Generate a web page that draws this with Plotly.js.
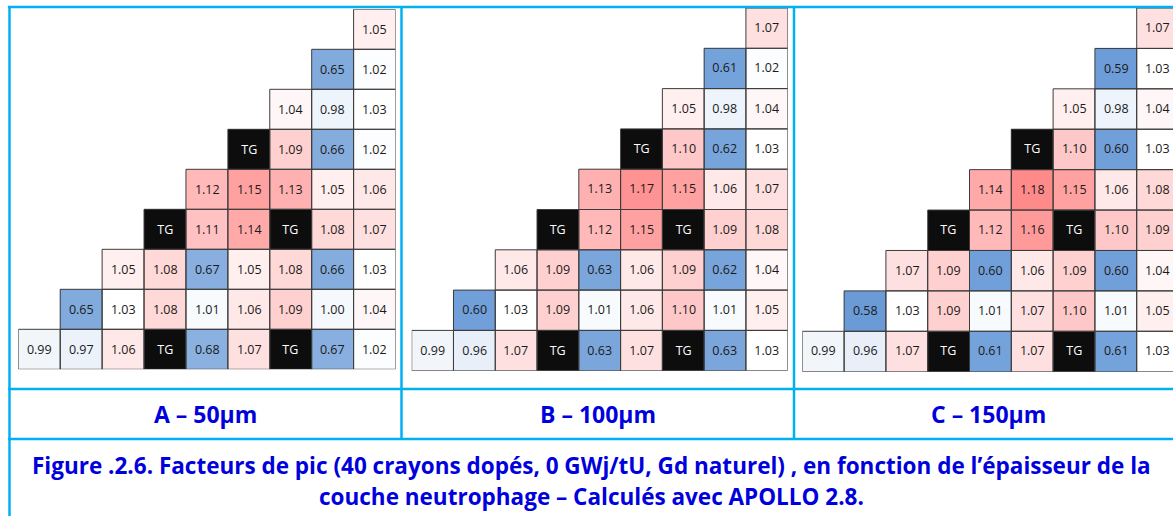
<!DOCTYPE html>
<html><head><meta charset="utf-8">
<script src="https://cdn.plot.ly/plotly-3.0.1.min.js"></script>
<style>html,body{margin:0;padding:0;background:#fff;overflow:hidden}#chart{width:1173px;height:516px}</style>
</head><body><div id="chart"></div>
<script>
// ---------- data ----------
const T = "TG";
const panelLabels = ["A – 50µm", "B – 100µm", "C – 150µm"];
const captionLines = [
  "Figure .2.6. Facteurs de pic (40 crayons dopés, 0 GWj/tU, Gd naturel) , en fonction de l’épaisseur de la",
  "couche neutrophage – Calculés avec APOLLO 2.8."
];
// each row lists its cells, right-aligned in a 9-column triangle
const panelA = [
  [1.05],
  [0.65, 1.02],
  [1.04, 0.98, 1.03],
  [T, 1.09, 0.66, 1.02],
  [1.12, 1.15, 1.13, 1.05, 1.06],
  [T, 1.11, 1.14, T, 1.08, 1.07],
  [1.05, 1.08, 0.67, 1.05, 1.08, 0.66, 1.03],
  [0.65, 1.03, 1.08, 1.01, 1.06, 1.09, 1.00, 1.04],
  [0.99, 0.97, 1.06, T, 0.68, 1.07, T, 0.67, 1.02]
];
const panelB = [
  [1.07],
  [0.61, 1.02],
  [1.05, 0.98, 1.04],
  [T, 1.10, 0.62, 1.03],
  [1.13, 1.17, 1.15, 1.06, 1.07],
  [T, 1.12, 1.15, T, 1.09, 1.08],
  [1.06, 1.09, 0.63, 1.06, 1.09, 0.62, 1.04],
  [0.60, 1.03, 1.09, 1.01, 1.06, 1.10, 1.01, 1.05],
  [0.99, 0.96, 1.07, T, 0.63, 1.07, T, 0.63, 1.03]
];
const panelC = [
  [1.07],
  [0.59, 1.03],
  [1.05, 0.98, 1.04],
  [T, 1.10, 0.60, 1.03],
  [1.14, 1.18, 1.15, 1.06, 1.08],
  [T, 1.12, 1.16, T, 1.10, 1.09],
  [1.07, 1.09, 0.60, 1.06, 1.09, 0.60, 1.04],
  [0.58, 1.03, 1.09, 1.01, 1.07, 1.10, 1.01, 1.05],
  [0.99, 0.96, 1.07, T, 0.61, 1.07, T, 0.61, 1.03]
];
const panels = [panelA, panelB, panelC];

// ---------- style / layout ----------
const W = 1173, H = 516, N = 9;
const gridPx = [ // [left, top, right, bottom] in pixels
  [18.3, 9.3, 395.5, 369.3],
  [411.7, 8.0, 787.7, 370.7],
  [802.3, 8.0, 1178.5, 371.7]
];
const labelX = [205, 598, 988];
const lowColor = "#6A9BD7", midColor = "#FFFFFF", highColor = "#FF8A8A";
const midValue = 1.03;
const frameColor = "#00B0F0";
const textBlue = "#0000DD";
const cellFont = "'Open Sans', sans-serif";

const allNums = panels.flat(2).filter(v => typeof v === "number");
const zmin = Math.min(...allNums), zmax = Math.max(...allNums);
const midPos = (midValue - zmin) / (zmax - zmin);
const colorscale = [[0, lowColor], [midPos, midColor], [1, highColor]];

const traces = [], shapes = [], annotations = [];
const layout = {
  width: W, height: H, margin: {l: 0, r: 0, t: 0, b: 0},
  paper_bgcolor: "#fff", plot_bgcolor: "rgba(0,0,0,0)", showlegend: false
};

panels.forEach((rows, p) => {
  const sfx = p === 0 ? "" : String(p + 1);
  const xa = "x" + sfx, ya = "y" + sfx;
  const z = [], txt = [], zTG = [], tTG = [];
  rows.forEach((cells, r) => {
    const pad = N - cells.length;
    const zr = [], tr = [], zg = [], tg = [];
    for (let c = 0; c < N; c++) {
      const v = c < pad ? null : cells[c - pad];
      if (v === null) { zr.push(null); tr.push(""); zg.push(null); tg.push(""); }
      else if (v === T) { zr.push(null); tr.push(""); zg.push(1); tg.push(T); }
      else { zr.push(v); tr.push(v.toFixed(2)); zg.push(null); tg.push(""); }
      if (v !== null) {
        shapes.push({type: "rect", xref: xa, yref: ya, x0: c - 0.5, x1: c + 0.5, y0: r - 0.5, y1: r + 0.5,
          line: {color: "#3c3c3c", width: 1}, layer: "above"});
      }
    }
    z.push(zr); txt.push(tr); zTG.push(zg); tTG.push(tg);
  });
  traces.push({type: "heatmap", z: z, text: txt, texttemplate: "%{text}",
    textfont: {family: cellFont, size: 12.5, color: "#1a1a1a"},
    colorscale: colorscale, zmin: zmin, zmax: zmax, showscale: false,
    hoverinfo: "skip", xaxis: xa, yaxis: ya});
  traces.push({type: "heatmap", z: zTG, text: tTG, texttemplate: "%{text}",
    textfont: {family: cellFont, size: 12.5, color: "#ffffff"},
    colorscale: [[0, "#0d0d0d"], [1, "#0d0d0d"]], zmin: 0, zmax: 1, showscale: false,
    hoverinfo: "skip", xaxis: xa, yaxis: ya});

  const [l, t, rgt, b] = gridPx[p];
  const visR = Math.min(rgt, W);
  const xRight = -0.5 + N * (visR - l) / (rgt - l);
  layout["xaxis" + sfx] = {domain: [l / W, visR / W], range: [-0.5, xRight], visible: false,
    fixedrange: true, anchor: ya};
  layout["yaxis" + sfx] = {domain: [1 - b / H, 1 - t / H], range: [N - 0.5, -0.5], visible: false,
    fixedrange: true, anchor: xa};

  annotations.push({xref: "paper", yref: "paper", x: labelX[p] / W, y: 1 - 414 / H,
    text: "<b>" + panelLabels[p] + "</b>", showarrow: false, xanchor: "center", yanchor: "middle",
    font: {family: cellFont, size: 23, color: textBlue}});
});

// caption
[465, 496].forEach((yy, i) => {
  annotations.push({xref: "paper", yref: "paper", x: 591 / W, y: 1 - yy / H,
    text: "<b>" + captionLines[i] + "</b>", showarrow: false, xanchor: "center", yanchor: "middle",
    font: {family: cellFont, size: 22.5, color: textBlue}});
});

// blue frame
const px = x => x / W, py = y => 1 - y / H;
const frameLine = (x0, y0, x1, y1) => shapes.push({type: "line", xref: "paper", yref: "paper",
  x0: px(x0), y0: py(y0), x1: px(x1), y1: py(y1), line: {color: frameColor, width: 2.5}, layer: "above"});
frameLine(8, 7, W, 7);
frameLine(9.5, 6, 9.5, H);
frameLine(401.5, 6, 401.5, 439);
frameLine(794, 6, 794, 439);
frameLine(8, 389, W, 389);
frameLine(8, 439, W, 439);

layout.shapes = shapes;
layout.annotations = annotations;
Plotly.newPlot("chart", traces, layout, {displayModeBar: false, staticPlot: true});
</script></body></html>
